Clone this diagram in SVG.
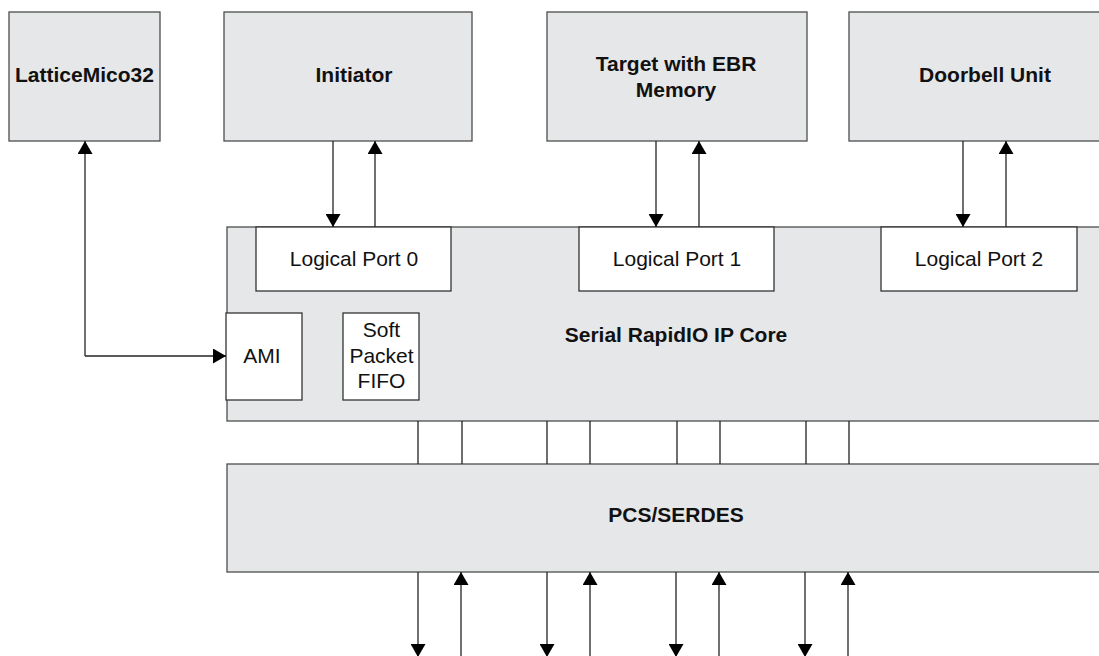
<svg xmlns="http://www.w3.org/2000/svg" width="1099" height="656" viewBox="0 0 1099 656">
<style>
.box{fill:#e6e7e8;stroke:#4d4d4d;stroke-width:1.3}
.wbox{fill:#ffffff;stroke:#333333;stroke-width:1.3}
.b{font-family:"Liberation Sans",Arial,sans-serif;font-weight:bold;font-size:21px;fill:#111;text-anchor:middle}
.r{font-family:"Liberation Sans",Arial,sans-serif;font-size:21px;fill:#111;text-anchor:middle}
.ln{stroke:#222;stroke-width:1.3;fill:none}
</style>
<defs>
<marker id="ah" viewBox="0 0 13 15" refX="13" refY="7.5" markerWidth="13" markerHeight="15" markerUnits="userSpaceOnUse" orient="auto">
<path d="M0,0 L13,7.5 L0,15 Z" fill="#000"/>
</marker>
</defs>
<g id="latticemico32"><rect class="box" x="9" y="12" width="151" height="129"/><text class="b" x="84.5" y="82">LatticeMico32</text></g>
<g id="initiator"><rect class="box" x="224" y="12" width="248" height="129"/><text class="b" x="354" y="82">Initiator</text></g>
<g id="target"><rect class="box" x="547" y="12" width="260" height="129"/><text class="b" x="676" y="71">Target with EBR</text><text class="b" x="676" y="97">Memory</text></g>
<g id="doorbell"><rect class="box" x="849" y="12" width="270" height="129"/><text class="b" x="985" y="82">Doorbell Unit</text></g>
<g id="core"><rect class="box" x="227" y="227" width="890" height="194"/><text class="b" x="676" y="342">Serial RapidIO IP Core</text></g>
<g id="lp0"><rect class="wbox" x="256" y="227" width="195" height="64"/><text class="r" x="354" y="266">Logical Port 0</text></g>
<g id="lp1"><rect class="wbox" x="579" y="227" width="195" height="64"/><text class="r" x="677" y="266">Logical Port 1</text></g>
<g id="lp2"><rect class="wbox" x="881" y="227" width="196" height="64"/><text class="r" x="979" y="266">Logical Port 2</text></g>
<g id="ami"><rect class="wbox" x="226" y="313" width="76" height="87"/><text class="r" x="262" y="363">AMI</text></g>
<g id="fifo"><rect class="wbox" x="343" y="313" width="76" height="87"/><text class="r" x="381.5" y="337">Soft</text><text class="r" x="381.5" y="363">Packet</text><text class="r" x="381.5" y="388">FIFO</text></g>
<g id="pcs"><rect class="box" x="227" y="464" width="890" height="108"/><text class="b" x="676" y="522">PCS/SERDES</text></g>
<g id="connectors">
<path class="ln" d="M85,356 V141" marker-end="url(#ah)"/>
<path class="ln" d="M85,356 H226" marker-end="url(#ah)"/>
<path class="ln" d="M333,141 V227" marker-end="url(#ah)"/>
<path class="ln" d="M375,227 V141" marker-end="url(#ah)"/>
<path class="ln" d="M656,141 V227" marker-end="url(#ah)"/>
<path class="ln" d="M699,227 V141" marker-end="url(#ah)"/>
<path class="ln" d="M963,141 V227" marker-end="url(#ah)"/>
<path class="ln" d="M1006,227 V141" marker-end="url(#ah)"/>
<path class="ln" d="M418,421 V464 M462,421 V464 M547,421 V464 M590,421 V464 M677,421 V464 M720,421 V464 M806,421 V464 M849,421 V464"/>
<path class="ln" d="M418,572 V657" marker-end="url(#ah)"/>
<path class="ln" d="M461,656 V572" marker-end="url(#ah)"/>
<path class="ln" d="M547,572 V657" marker-end="url(#ah)"/>
<path class="ln" d="M590,656 V572" marker-end="url(#ah)"/>
<path class="ln" d="M676,572 V657" marker-end="url(#ah)"/>
<path class="ln" d="M719,656 V572" marker-end="url(#ah)"/>
<path class="ln" d="M805,572 V657" marker-end="url(#ah)"/>
<path class="ln" d="M848,656 V572" marker-end="url(#ah)"/>
</g>
</svg>
